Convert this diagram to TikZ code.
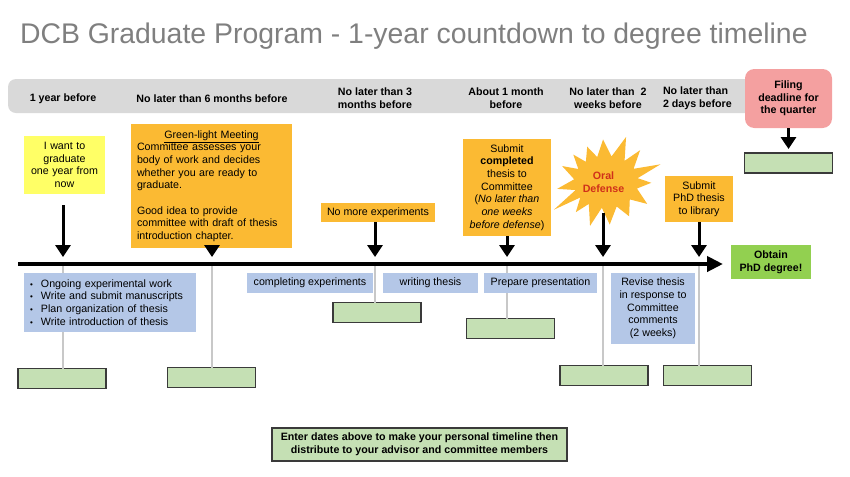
\documentclass[tikz,border=0pt]{standalone}
\usepackage{fontspec}
\setmainfont{Liberation Sans}
\usetikzlibrary{arrows.meta}
\definecolor{titlegray}{HTML}{7F7F7F}
\definecolor{hdrgray}{HTML}{D9D9D9}
\definecolor{pinkbox}{HTML}{F4A0A0}
\definecolor{goldbox}{HTML}{FBBA33}
\definecolor{yellowbox}{HTML}{FFFF66}
\definecolor{bluebox}{HTML}{B4C7E7}
\definecolor{entrygreen}{HTML}{C5E0B4}
\definecolor{entryborder}{HTML}{3A3A3A}
\definecolor{obtaingreen}{HTML}{92D050}
\definecolor{linegray}{HTML}{C8C8C8}
\definecolor{oralred}{HTML}{D0301A}
\begin{document}
\begin{tikzpicture}[x=0.75pt,y=-0.75pt,
  every node/.style={font=\fontsize{8}{9.5}\selectfont, inner sep=0pt, outer sep=0pt},
  hdr/.style={font=\bfseries\fontsize{8}{9.5}\selectfont, align=center},
  hdrbar/.style={fill=hdrgray, rounded corners=6pt},
  goldrect/.style={fill=goldbox, align=center},
  bluerect/.style={fill=bluebox, align=center},
  entry/.style={fill=entrygreen, draw=entryborder, line width=1pt, minimum width=66pt, minimum height=15pt},
  vline/.style={draw=linegray, line width=0.9pt},
  downarr/.style={line width=2.25pt, -{Triangle[width=11.25pt,length=9pt]}, shorten >=5.25pt},
]
\useasboundingbox (0,0) rectangle (850,476);

% title
\node[anchor=base west, font=\fontsize{21.3}{25}\selectfont, text=titlegray] (title) at (20,43)
  {DCB Graduate Program - 1-year countdown to degree timeline};

% header bar
\node[hdrbar, minimum width=582.75pt, minimum height=25.5pt] (bar) at (396.5,96) {};
\node[hdr] (h1) at (63,99) {1 year before};
\node[hdr] (h2) at (212,99) {No later than 6 months before};
\node[hdr] (h3) at (375,98.5) {No later than 3\\months before};
\node[hdr] (h4) at (506,98.5) {About 1 month\\before};
\node[hdr] (h5) at (608,98.5) {No later than \ 2\\weeks before};
\node[hdr, anchor=west, align=left] (h6) at (663,98.5) {No later than\\2 days before};
\node[hdr, fill=pinkbox, rounded corners=7pt, minimum width=65.25pt, minimum height=44.25pt] (filing) at (788.5,98.5)
  {Filing\\deadline for\\the quarter};

% timeline coordinates
\coordinate (tlA) at (18,264);
\coordinate (tlB) at (723,264);
\coordinate (t1) at (63,264);
\coordinate (t2) at (212,264);
\coordinate (t3) at (375,264);
\coordinate (t4) at (507,264);
\coordinate (t5) at (603,264);
\coordinate (t6) at (699,264);

% entry boxes
\node[entry] (g1) at (62,378.5) {};
\node[entry] (g2) at (211.5,377.5) {};
\node[entry] (g3) at (377,312.5) {};
\node[entry] (g4) at (510.5,328.5) {};
\node[entry] (g5) at (604,375.5) {};
\node[entry] (g6) at (707.5,375.5) {};
\node[entry] (g7) at (788.5,163) {};

% thin gray lines
\draw[vline] (t1) -- (t1 |- g1.north);
\draw[vline] (t2) -- (t2 |- g2.north);
\draw[vline] (t3) -- (t3 |- g3.north);
\draw[vline] (t4) -- (t4 |- g4.north);
\draw[vline] (t5) -- (t5 |- g5.north);
\draw[vline] (t6) -- (t6 |- g6.north);

% event boxes above timeline
\node[fill=yellowbox, align=center, minimum width=60.75pt, minimum height=43.5pt, text width=56pt] (want) at (64.5,165)
  {I want to\\graduate\\one year from\\now};
\node[goldrect, align=left, minimum width=120.75pt, minimum height=93pt, text width=111.75pt] (green) at (211.5,186)
  {\makebox[111.75pt]{\underline{Green-light Meeting}}\\
   Committee assesses your\\body of work and decides\\whether you are ready to\\graduate.\\[9.5pt]
   Good idea to provide\\committee with draft of thesis\\introduction chapter.};
\node[goldrect, minimum width=85.5pt, minimum height=14.25pt] (nomore) at (378,212.5) {No more experiments};
\node[goldrect, minimum width=66pt, minimum height=72.75pt] (submit) at (507,187.5)
  {Submit\\\textbf{completed}\\thesis to\\Committee\\(\textit{No later than}\\\textit{one weeks}\\\textit{before defense})};

% starburst
\begin{scope}[shift={(606,182)}]
\fill[goldbox] (66:37pt) -- (54.5:24pt and 19.5pt) -- (43:35pt) -- (30.5:24pt and 19.5pt)
  -- (18:43pt) -- (8.5:24pt and 19.5pt) -- (-1:34pt) -- (-14.5:24pt and 19.5pt)
  -- (-28:35pt) -- (-42:24pt and 19.5pt) -- (-56:31pt) -- (-70.5:24pt and 19.5pt)
  -- (-85:32pt) -- (-97.5:24pt and 19.5pt) -- (-110:35pt) -- (-122.5:24pt and 19.5pt)
  -- (-135:32pt) -- (-143.5:24pt and 19.5pt) -- (-152:44.25pt) -- (-162:24pt and 19.5pt)
  -- (-172:37pt) -- (174:24pt and 19.5pt) -- (160:35pt) -- (150:24pt and 19.5pt)
  -- (140:32pt) -- (129:24pt and 19.5pt) -- (118:30pt) -- (106:24pt and 19.5pt)
  -- (94:32pt) -- (80:24pt and 19.5pt) -- cycle;
\end{scope}
\node[align=center, text=oralred, font=\bfseries\fontsize{8}{9.5}\selectfont] (oral) at (603.5,182.5) {Oral\\Defense};
\node[goldrect, minimum width=51pt, minimum height=34.5pt] (library) at (699,199) {Submit\\PhD thesis\\to library};

% blue boxes below timeline
\node[bluerect, align=left, minimum width=129pt, minimum height=44.25pt, text width=120pt] (tasks) at (110,302.5)
  {\makebox[8.25pt][l]{\fontsize{6}{6}\selectfont•}Ongoing experimental work\\
   \makebox[8.25pt][l]{\fontsize{6}{6}\selectfont•}Write and submit manuscripts\\
   \makebox[8.25pt][l]{\fontsize{6}{6}\selectfont•}Plan organization of thesis\\
   \makebox[8.25pt][l]{\fontsize{6}{6}\selectfont•}Write introduction of thesis};
\node[bluerect, minimum width=94.5pt, minimum height=15pt] (compexp) at (310,283) {completing experiments};
\node[bluerect, minimum width=71.25pt, minimum height=15pt] (writing) at (430.5,283) {writing thesis};
\node[bluerect, minimum width=84.75pt, minimum height=15pt] (prepare) at (540.5,283) {Prepare presentation};
\node[bluerect, minimum width=63pt, minimum height=53.25pt] (revise) at (653,308.5)
  {Revise thesis\\in response to\\Committee\\comments\\(2 weeks)};

% timeline
\draw[line width=3pt, -{Triangle[width=11.25pt,length=12pt]}] (tlA) -- (tlB);

\node[fill=obtaingreen, align=center, minimum width=60pt, minimum height=25.5pt,
      font=\bfseries\fontsize{8}{9.5}\selectfont] (obtain) at (771,262) {Obtain\\PhD degree!};

% down arrows
\draw[downarr, shorten <=8.25pt] (want.south -| t1) -- (t1);
\draw[downarr] (green.south -| t2) -- (t2);
\draw[downarr] (nomore.south -| t3) -- (t3);
\draw[downarr] (submit.south -| t4) -- (t4);
\draw[downarr] (t5 |- oral.center) ++(0,30) -- (t5);
\draw[downarr] (library.south -| t6) -- (t6);
\draw[line width=2.25pt, -{Triangle[width=11.25pt,length=9pt]}, shorten >=3pt] (filing.south) -- (g7.north);

% note
\node[entry, minimum width=221.25pt, minimum height=24.75pt, align=center,
      font=\bfseries\fontsize{8}{9.5}\selectfont] (note) at (419.5,444.5)
  {Enter dates above to make your personal timeline then\\distribute to your advisor and committee members};
\end{tikzpicture}
\end{document}
